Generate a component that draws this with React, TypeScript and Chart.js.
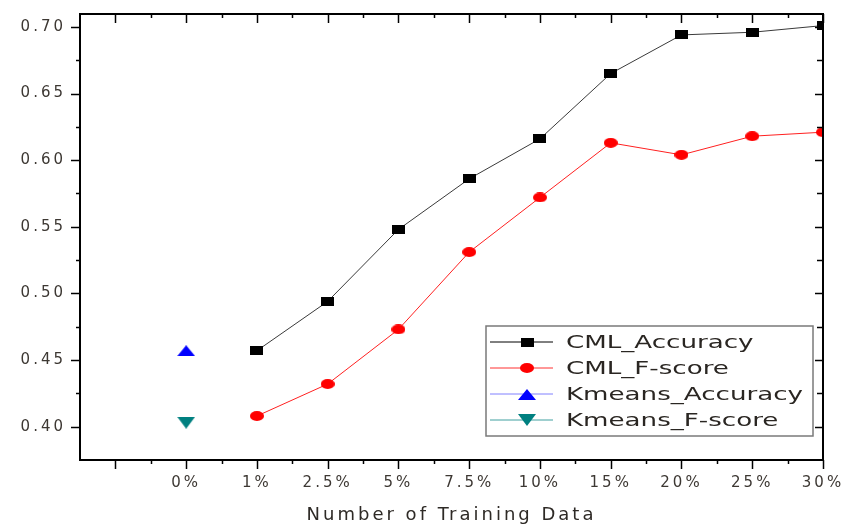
import React, { useEffect, useRef } from 'react';
import { Chart, registerables } from 'chart.js';

Chart.register(...registerables);

// ---- data ----
const xLabels = ['', '0%', '1%', '2.5%', '5%', '7.5%', '10%', '15%', '20%', '25%', '30%'];
const cmlLabels = ['1%', '2.5%', '5%', '7.5%', '10%', '15%', '20%', '25%', '30%'];
const cmlAccuracy = [0.457, 0.494, 0.548, 0.586, 0.616, 0.665, 0.694, 0.696, 0.701];
const cmlFscore = [0.408, 0.432, 0.473, 0.531, 0.572, 0.613, 0.604, 0.618, 0.621];
const kmeansLabels = ['0%'];
const kmeansAccuracy = [0.457];
const kmeansFscore = [0.403];
const yTickValues = [0.4, 0.45, 0.5, 0.55, 0.6, 0.65, 0.7];
const seriesNames = ['CML_Accuracy', 'CML_F-score', 'Kmeans_Accuracy', 'Kmeans_F-score'];
const xTitle = 'Number of Training Data';

const toPoints = (labels: string[], values: number[]) =>
  labels.map((l, i) => ({ x: xLabels.indexOf(l), y: values[i] }));

const FONT = "'DejaVu Sans', sans-serif";

// stretched marker images (the reference is horizontally stretched)
const makeMarker = (kind: string, color: string) => {
  const c = document.createElement('canvas');
  const sizes: Record<string, [number, number]> = {
    rect: [13, 9],
    circle: [14, 10],
    triangle: [18, 11],
    invtriangle: [18, 12],
  };
  const [w, h] = sizes[kind];
  c.width = w;
  c.height = h;
  const ctx = c.getContext('2d')!;
  ctx.fillStyle = color;
  ctx.beginPath();
  if (kind === 'rect') {
    ctx.rect(0, 0, w, h);
  } else if (kind === 'circle') {
    ctx.ellipse(w / 2, h / 2, w / 2, h / 2, 0, 0, Math.PI * 2);
  } else if (kind === 'triangle') {
    ctx.moveTo(w / 2, 0);
    ctx.lineTo(w, h);
    ctx.lineTo(0, h);
    ctx.closePath();
  } else {
    ctx.moveTo(0, 0);
    ctx.lineTo(w, 0);
    ctx.lineTo(w / 2, h);
    ctx.closePath();
  }
  ctx.fill();
  return c;
};

const textSpacingPlugin = {
  id: 'textSpacing',
  beforeDraw(chart: any) {
    (chart.ctx as any).letterSpacing = '3px';
  },
  afterDatasetsDraw(chart: any) {
    (chart.ctx as any).letterSpacing = '0px';
  },
};

const framePlugin = {
  id: 'frame',
  afterDraw(chart: any) {
    const { ctx, chartArea } = chart;
    const { left, right, top, bottom } = chartArea;
    const xs = chart.scales.x;
    const ys = chart.scales.y;
    ctx.save();
    ctx.strokeStyle = '#000';
    ctx.lineWidth = 2;
    ctx.strokeRect(left, top, right - left, bottom - top);
    ctx.lineWidth = 1.5;
    const line = (x1: number, y1: number, x2: number, y2: number) => {
      ctx.beginPath();
      ctx.moveTo(x1, y1);
      ctx.lineTo(x2, y2);
      ctx.stroke();
    };
    for (let i = 0; i < xLabels.length; i++) {
      const px = Math.round(xs.getPixelForValue(i)) + 0.5;
      line(px, top, px, top + 9);
      line(px, bottom, px, bottom + 9);
      if (i < xLabels.length - 1) {
        const pm = Math.round(xs.getPixelForValue(i + 0.5)) + 0.5;
        line(pm, top, pm, top + 4);
        line(pm, bottom, pm, bottom + 4);
      }
    }
    for (let j = 0; j < yTickValues.length; j++) {
      const v = yTickValues[j];
      const py = Math.round(ys.getPixelForValue(v)) + 0.5;
      line(left - 9, py, left, py);
      line(right - 8, py, right, py);
      const mv = v - 0.025;
      const pm = Math.round(ys.getPixelForValue(mv)) + 0.5;
      if (pm < bottom - 1) {
        line(left - 4, pm, left, pm);
        line(right - 6, pm, right, pm);
      }
    }
    ctx.restore();
  },
};

const legendPlugin = {
  id: 'boxLegend',
  afterDraw(chart: any) {
    const ctx: CanvasRenderingContext2D = chart.ctx;
    const { right, bottom } = chart.chartArea;
    const boxR = right - 10;
    const boxL = boxR - 327;
    const boxB = bottom - 24;
    const boxT = boxB - 110;
    ctx.save();
    (ctx as any).letterSpacing = '0px';
    ctx.fillStyle = '#fff';
    ctx.fillRect(boxL, boxT, boxR - boxL, boxB - boxT);
    ctx.strokeStyle = '#7a7a7a';
    ctx.lineWidth = 1.5;
    ctx.strokeRect(boxL, boxT, boxR - boxL, boxB - boxT);
    const rowsY = [boxT + 16, boxT + 42, boxT + 68, boxT + 94];
    chart.data.datasets.forEach((ds: any, i: number) => {
      const y = rowsY[i];
      ctx.strokeStyle = ds.legendLine;
      ctx.lineWidth = 1;
      ctx.beginPath();
      ctx.moveTo(boxL + 4, y);
      ctx.lineTo(boxL + 67, y);
      ctx.stroke();
      const img = ds.pointStyle as HTMLCanvasElement;
      ctx.drawImage(img, Math.round(boxL + 41 - img.width / 2), Math.round(y - img.height / 2));
      ctx.save();
      ctx.translate(boxL + 80, y);
      ctx.scale(1.45, 1);
      ctx.fillStyle = '#2a2622';
      ctx.font = `18px ${FONT}`;
      ctx.textBaseline = 'middle';
      ctx.fillText(ds.label, 0, 1);
      ctx.restore();
    });
    ctx.restore();
  },
};

export default function App() {
  const canvasRef = useRef<HTMLCanvasElement | null>(null);

  useEffect(() => {
    if (!canvasRef.current) return;
    const chart = new Chart(canvasRef.current, {
      type: 'line',
      data: {
        datasets: [
          {
            label: seriesNames[0],
            data: toPoints(cmlLabels, cmlAccuracy),
            borderColor: '#3a3a3a',
            borderWidth: 1,
            pointStyle: makeMarker('rect', '#000'),
            legendLine: '#000',
          } as any,
          {
            label: seriesNames[1],
            data: toPoints(cmlLabels, cmlFscore),
            borderColor: '#ff2020',
            borderWidth: 1,
            pointStyle: makeMarker('circle', '#ff0000'),
            legendLine: '#ff3030',
          } as any,
          {
            label: seriesNames[2],
            data: toPoints(kmeansLabels, kmeansAccuracy),
            borderColor: '#0000ff',
            borderWidth: 1,
            pointStyle: makeMarker('triangle', '#0000ff'),
            legendLine: '#8080ff',
          } as any,
          {
            label: seriesNames[3],
            data: toPoints(kmeansLabels, kmeansFscore),
            borderColor: '#008080',
            borderWidth: 1,
            pointStyle: makeMarker('invtriangle', '#008080'),
            legendLine: '#40a0a0',
          } as any,
        ],
      },
      options: {
        responsive: false,
        animation: false,
        layout: { padding: { top: 11, right: 32, left: 0, bottom: 0 } },
        plugins: {
          legend: { display: false },
          tooltip: { enabled: false },
        },
        scales: {
          x: {
            type: 'linear',
            min: -0.5,
            max: xLabels.length - 1,
            afterBuildTicks: (scale: any) => {
              scale.ticks = xLabels.map((_, i) => ({ value: i }));
            },
            afterFit: (scale: any) => {
              scale.height = 67;
            },
            grid: { display: false, drawTicks: true, tickLength: 9 },
            border: { display: false },
            ticks: {
              autoSkip: false,
              maxRotation: 0,
              padding: 5,
              color: '#3d3833',
              font: { family: FONT, size: 15 },
              callback: (v: any) => xLabels[Math.round(Number(v))] ?? '',
            },
            title: {
              display: true,
              text: xTitle,
              color: '#2e2a26',
              font: { family: FONT, size: 18 },
              padding: { top: 0, bottom: 1 },
            },
          },
          y: {
            type: 'linear',
            min: 0.375,
            max: 0.7097,
            afterBuildTicks: (scale: any) => {
              scale.ticks = yTickValues.map((v) => ({ value: v }));
            },
            afterFit: (scale: any) => {
              scale.width = 80;
            },
            grid: { display: false, drawTicks: true, tickLength: 9 },
            border: { display: false },
            ticks: {
              padding: 5,
              color: '#3d3833',
              font: { family: FONT, size: 15 },
              callback: (v: any) => Number(v).toFixed(2),
            },
          },
        },
      } as any,
      plugins: [textSpacingPlugin, framePlugin, legendPlugin],
    });
    return () => chart.destroy();
  }, []);

  return (
    <div style={{ position: 'fixed', left: 0, top: 0, width: 855, height: 527, background: '#fff' }}>
      <canvas ref={canvasRef} width={855} height={527} style={{ display: 'block' }} />
    </div>
  );
}
